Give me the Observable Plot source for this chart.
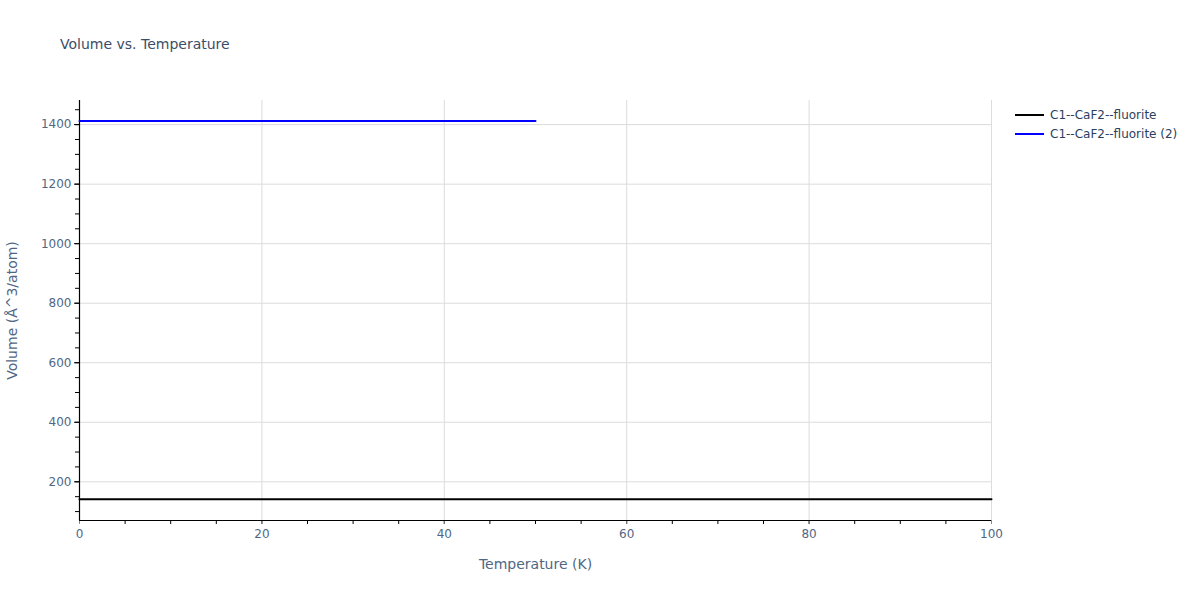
<!DOCTYPE html>
<html>
<head>
<meta charset="utf-8">
<script src="https://cdn.jsdelivr.net/npm/d3@7"></script>
<script src="https://cdn.jsdelivr.net/npm/@observablehq/plot@0.6"></script>
<style>
  html, body { margin: 0; padding: 0; background: #fff; }
  #wrap { position: relative; width: 1200px; height: 600px; font-family: "DejaVu Sans", sans-serif; color: #2a3f5f; }
  #title { position: absolute; left: 60px; top: 36px; font-size: 14px; color: #3c4d68; }
  #legend { position: absolute; left: 1015px; top: 105px; font-size: 12px; color: #2a3f5f; }
  .li { display: flex; align-items: center; height: 19px; }
  .sw { width: 29px; height: 2px; margin-right: 6px; }
</style>
</head>
<body>
<div id="wrap">
  <div id="chart"></div>
  <div id="title">Volume vs. Temperature</div>
  <div id="legend"></div>
</div>
<script>
// Data
const seriesNames = ["C1--CaF2--fluorite", "C1--CaF2--fluorite (2)"];
const seriesColors = ["#000000", "#0000ff"];
const tempBlack = [0, 10, 20, 30, 40, 50, 60, 70, 80, 90, 100];
const volBlack = [141, 141, 141, 141, 141, 141, 141, 141, 141, 141, 141];
const tempBlue = [0, 10, 20, 30, 40, 50];
const volBlue = [1412, 1412, 1412, 1412, 1412, 1412];
const xTicks = [0, 20, 40, 60, 80, 100];
const yTicks = [200, 400, 600, 800, 1000, 1200, 1400];

const rows = [
  ...tempBlack.map((t, i) => ({T: t, V: volBlack[i], s: seriesNames[0]})),
  ...tempBlue.map((t, i) => ({T: t, V: volBlue[i], s: seriesNames[1]}))
];
const xMinor = d3.range(0, 101, 5);
const yMinor = d3.range(100, 1481, 50);

const chart = Plot.plot({
  width: 1200, height: 600,
  marginLeft: 79, marginRight: 209, marginTop: 100, marginBottom: 80,
  x: {domain: [0, 100]},
  y: {domain: [70, 1481]},
  color: {domain: seriesNames, range: seriesColors},
  style: {fontFamily: "'DejaVu Sans', sans-serif", fontSize: "12px", color: "#506784", background: "#fff"},
  marks: [
    Plot.gridX(xTicks, {stroke: "#dcdcdc", strokeOpacity: 1, strokeWidth: 1}),
    Plot.gridY(yTicks, {stroke: "#dcdcdc", strokeOpacity: 1, strokeWidth: 1}),
    Plot.axisX(xMinor, {tickSize: 4, tickFormat: () => "", stroke: "#000", label: null}),
    Plot.axisX(xTicks, {tickSize: 4, tickPadding: 5, tickFormat: d3.format("d"), stroke: "#888", fill: "#506784",
      label: "Temperature (K)", labelAnchor: "center", labelArrow: "none", labelOffset: 48}),
    Plot.axisY(yMinor, {tickSize: 4, tickFormat: () => "", stroke: "#000", label: null}),
    Plot.axisY(yTicks, {tickSize: 5, tickPadding: 3, tickFormat: d3.format("d"), stroke: "#000", fill: "#506784",
      label: "Volume (Å^3/atom)", labelAnchor: "center", labelArrow: "none", labelOffset: 72}),
    Plot.ruleX([0], {stroke: "#000", strokeWidth: 1.2}),
    Plot.ruleY([70], {stroke: "#000", strokeWidth: 1.2}),
    Plot.line(rows, {x: "T", y: "V", z: "s", stroke: "s", strokeWidth: 2})
  ]
});
chart.querySelectorAll("[aria-label='x-axis label'] text, [aria-label='y-axis label'] text").forEach(t => {
  t.style.fontSize = "14px"; t.setAttribute("fill", "#506784");
});
document.getElementById("chart").appendChild(chart);

const leg = document.getElementById("legend");
seriesNames.forEach((n, i) => {
  const d = document.createElement("div"); d.className = "li";
  const sw = document.createElement("div"); sw.className = "sw"; sw.style.background = seriesColors[i];
  const tx = document.createElement("span"); tx.textContent = n;
  d.appendChild(sw); d.appendChild(tx); leg.appendChild(d);
});
</script>
</body>
</html>
